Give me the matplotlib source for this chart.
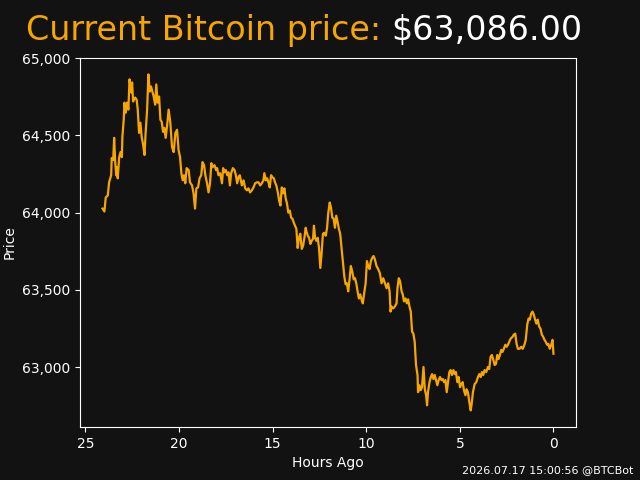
import matplotlib
matplotlib.use("Agg")
import matplotlib.pyplot as plt
from matplotlib.ticker import FuncFormatter

# price history (hours ago, USD)
hours = [24.08, 23.98, 23.91, 23.80, 23.73, 23.62, 23.59, 23.51, 23.46, 23.41,
         23.35, 23.30, 23.27, 23.19, 23.12, 23.05, 23.02, 22.95, 22.91, 22.84,
         22.77, 22.70, 22.64, 22.59, 22.54, 22.50, 22.45, 22.34, 22.26, 22.20,
         22.13, 22.06, 21.99, 21.91, 21.84, 21.78, 21.70, 21.63, 21.56, 21.49,
         21.42, 21.35, 21.27, 21.21, 21.14, 21.06, 20.99, 20.92, 20.85, 20.78,
         20.71, 20.64, 20.55, 20.46, 20.37, 20.28, 20.19, 20.10, 20.02, 19.94,
         19.87, 19.80, 19.73, 19.66, 19.59, 19.48, 19.41, 19.30, 19.22, 19.14,
         19.07, 18.98, 18.90, 18.81, 18.74, 18.66, 18.59, 18.50, 18.42, 18.34,
         18.27, 18.21, 18.10, 18.02, 17.96, 17.89, 17.80, 17.70, 17.64, 17.57,
         17.49, 17.42, 17.35, 17.28, 17.21, 17.12, 17.03, 16.96, 16.89, 16.82,
         16.75, 16.64, 16.55, 16.46, 16.37, 16.29, 16.20, 16.11, 16.02, 15.93,
         15.84, 15.75, 15.66, 15.57, 15.49, 15.44, 15.36, 15.29, 15.22, 15.15,
         15.08, 15.01, 14.93, 14.87, 14.80, 14.72, 14.65, 14.58, 14.51, 14.44,
         14.37, 14.30, 14.23, 14.16, 14.08, 14.01, 13.94, 13.87, 13.80, 13.73,
         13.66, 13.59, 13.52, 13.44, 13.37, 13.30, 13.23, 13.20, 13.12, 13.05,
         12.98, 12.91, 12.84, 12.79, 12.73, 12.66, 12.59, 12.52, 12.45, 12.38,
         12.31, 12.24, 12.16, 12.09, 12.03, 11.95, 11.88, 11.81, 11.74, 11.67,
         11.60, 11.52, 11.46, 11.39, 11.31, 11.24, 11.17, 11.10, 11.03, 10.96,
         10.89, 10.82, 10.75, 10.67, 10.60, 10.53, 10.46, 10.39, 10.32, 10.25,
         10.18, 10.11, 10.03, 9.96, 9.89, 9.82, 9.75, 9.68, 9.61, 9.54,
         9.45, 9.36, 9.27, 9.18, 9.09, 9.00, 8.91, 8.83, 8.75, 8.70,
         8.65, 8.56, 8.47, 8.38, 8.33, 8.26, 8.19, 8.11, 8.05, 7.98,
         7.90, 7.83, 7.76, 7.69, 7.62, 7.55, 7.48, 7.41, 7.34, 7.26,
         7.23, 7.16, 7.09, 7.02, 6.94, 6.87, 6.80, 6.75, 6.70, 6.62,
         6.55, 6.48, 6.41, 6.34, 6.27, 6.20, 6.13, 6.06, 5.98, 5.91,
         5.84, 5.77, 5.70, 5.63, 5.56, 5.49, 5.42, 5.34, 5.27, 5.21,
         5.13, 5.06, 4.99, 4.92, 4.85, 4.78, 4.70, 4.64, 4.57, 4.49,
         4.42, 4.37, 4.30, 4.21, 4.12, 4.03, 3.96, 3.89, 3.82, 3.75,
         3.68, 3.59, 3.50, 3.43, 3.36, 3.29, 3.21, 3.14, 3.07, 3.00,
         2.93, 2.86, 2.79, 2.72, 2.65, 2.57, 2.50, 2.43, 2.36, 2.29,
         2.18, 2.12, 2.04, 1.97, 1.90, 1.81, 1.72, 1.64, 1.55, 1.48,
         1.40, 1.33, 1.26, 1.19, 1.12, 1.05, 0.98, 0.91, 0.84, 0.76,
         0.69, 0.62, 0.55, 0.48, 0.41, 0.34, 0.27, 0.20, 0.12, 0.05,
         0.00]
prices = [64026, 64007, 64098, 64111, 64196, 64242, 64353, 64340, 64484, 64340,
          64242, 64294, 64222, 64359, 64392, 64359, 64490, 64601, 64712, 64647,
          64712, 64667, 64863, 64817, 64778, 64843, 64719, 64745, 64732, 64667,
          64516, 64582, 64490, 64438, 64373, 64516, 64667, 64895, 64784, 64817,
          64784, 64752, 64699, 64830, 64712, 64752, 64601, 64588, 64523, 64549,
          64484, 64556, 64667, 64582, 64425, 64392, 64516, 64536, 64405, 64359,
          64255, 64209, 64242, 64190, 64288, 64275, 64196, 64176, 64124, 64026,
          64157, 64163, 64222, 64242, 64327, 64307, 64242, 64190, 64131, 64190,
          64320, 64294, 64307, 64275, 64288, 64242, 64255, 64190, 64288, 64261,
          64275, 64242, 64261, 64176, 64255, 64288, 64275, 64242, 64190, 64229,
          64242, 64176, 64209, 64157, 64144, 64157, 64131, 64144, 64163, 64190,
          64196, 64196, 64176, 64190, 64209, 64255, 64209, 64222, 64196, 64163,
          64242, 64229, 64222, 64196, 64176, 64131, 64078, 64046, 64163, 64124,
          64157, 64092, 64059, 64000, 64013, 63967, 63961, 63935, 63915, 63895,
          63771, 63837, 63863, 63765, 63784, 63837, 63902, 63882, 63850, 63837,
          63797, 63817, 63830, 63915, 63837, 63817, 63837, 63771, 63641, 63739,
          63863, 63869, 63850, 63902, 63993, 64065, 64033, 63967, 63961, 63902,
          63980, 63935, 63895, 63863, 63765, 63673, 63588, 63536, 63542, 63490,
          63568, 63654, 63621, 63568, 63575, 63542, 63490, 63444, 63470, 63438,
          63412, 63477, 63542, 63686, 63654, 63634, 63686, 63706, 63719, 63699,
          63654, 63634, 63608, 63542, 63575, 63542, 63510, 63542, 63490, 63359,
          63392, 63379, 63392, 63412, 63510, 63575, 63556, 63490, 63471, 63425,
          63444, 63412, 63438, 63392, 63359, 63229, 63216, 63163, 63013, 62948,
          62837, 62882, 62850, 62869, 63000, 62856, 62817, 62752, 62837, 62902,
          62935, 62954, 62922, 62948, 62915, 62882, 62915, 62935, 62915, 62922,
          62902, 62915, 62837, 62902, 62967, 62980, 62948, 62980, 62954, 62967,
          62902, 62935, 62869, 62889, 62902, 62850, 62817, 62856, 62837, 62771,
          62719, 62758, 62837, 62889, 62902, 62935, 62954, 62935, 62967, 62948,
          62980, 62967, 63000, 62987, 63065, 63078, 63046, 63013, 63020, 63078,
          63052, 63078, 63111, 63098, 63118, 63144, 63131, 63144, 63163, 63183,
          63196, 63209, 63216, 63150, 63118, 63118, 63131, 63118, 63144, 63176,
          63274, 63314, 63307, 63346, 63359, 63340, 63307, 63281, 63307, 63261,
          63248, 63209, 63196, 63176, 63163, 63144, 63150, 63118, 63144, 63176,
          63086]

title_left = "Current Bitcoin price: "
title_right = "$63,086.00"
stamp = "2026.07.17 15:00:56 @BTCBot"

bg = "#121212"
orange = "#F7A600"

fig, ax = plt.subplots(figsize=(6.4, 4.8), dpi=100)
fig.patch.set_facecolor(bg)
ax.set_facecolor(bg)

ax.plot(hours, prices, color=orange, linewidth=1.6)
ax.invert_xaxis()

ax.set_xlabel("Hours Ago", color="white")
ax.set_ylabel("Price", color="white")
ax.yaxis.set_major_formatter(FuncFormatter(lambda v, p: f"{v:,.0f}"))
ax.tick_params(colors="white")
for s in ax.spines.values():
    s.set_color("white")

# two-colour title
t1 = fig.text(0.04, 0.937, title_left, color=orange, fontsize=24, va="center")
fig.canvas.draw()
bb = t1.get_window_extent(fig.canvas.get_renderer())
x2 = bb.x1 / fig.bbox.width
fig.text(x2, 0.937, title_right, color="white", fontsize=24, va="center")

fig.text(0.99, 0.01, stamp, color="white", fontsize=8, ha="right", va="bottom")

fig.savefig("out.png", facecolor=bg)
